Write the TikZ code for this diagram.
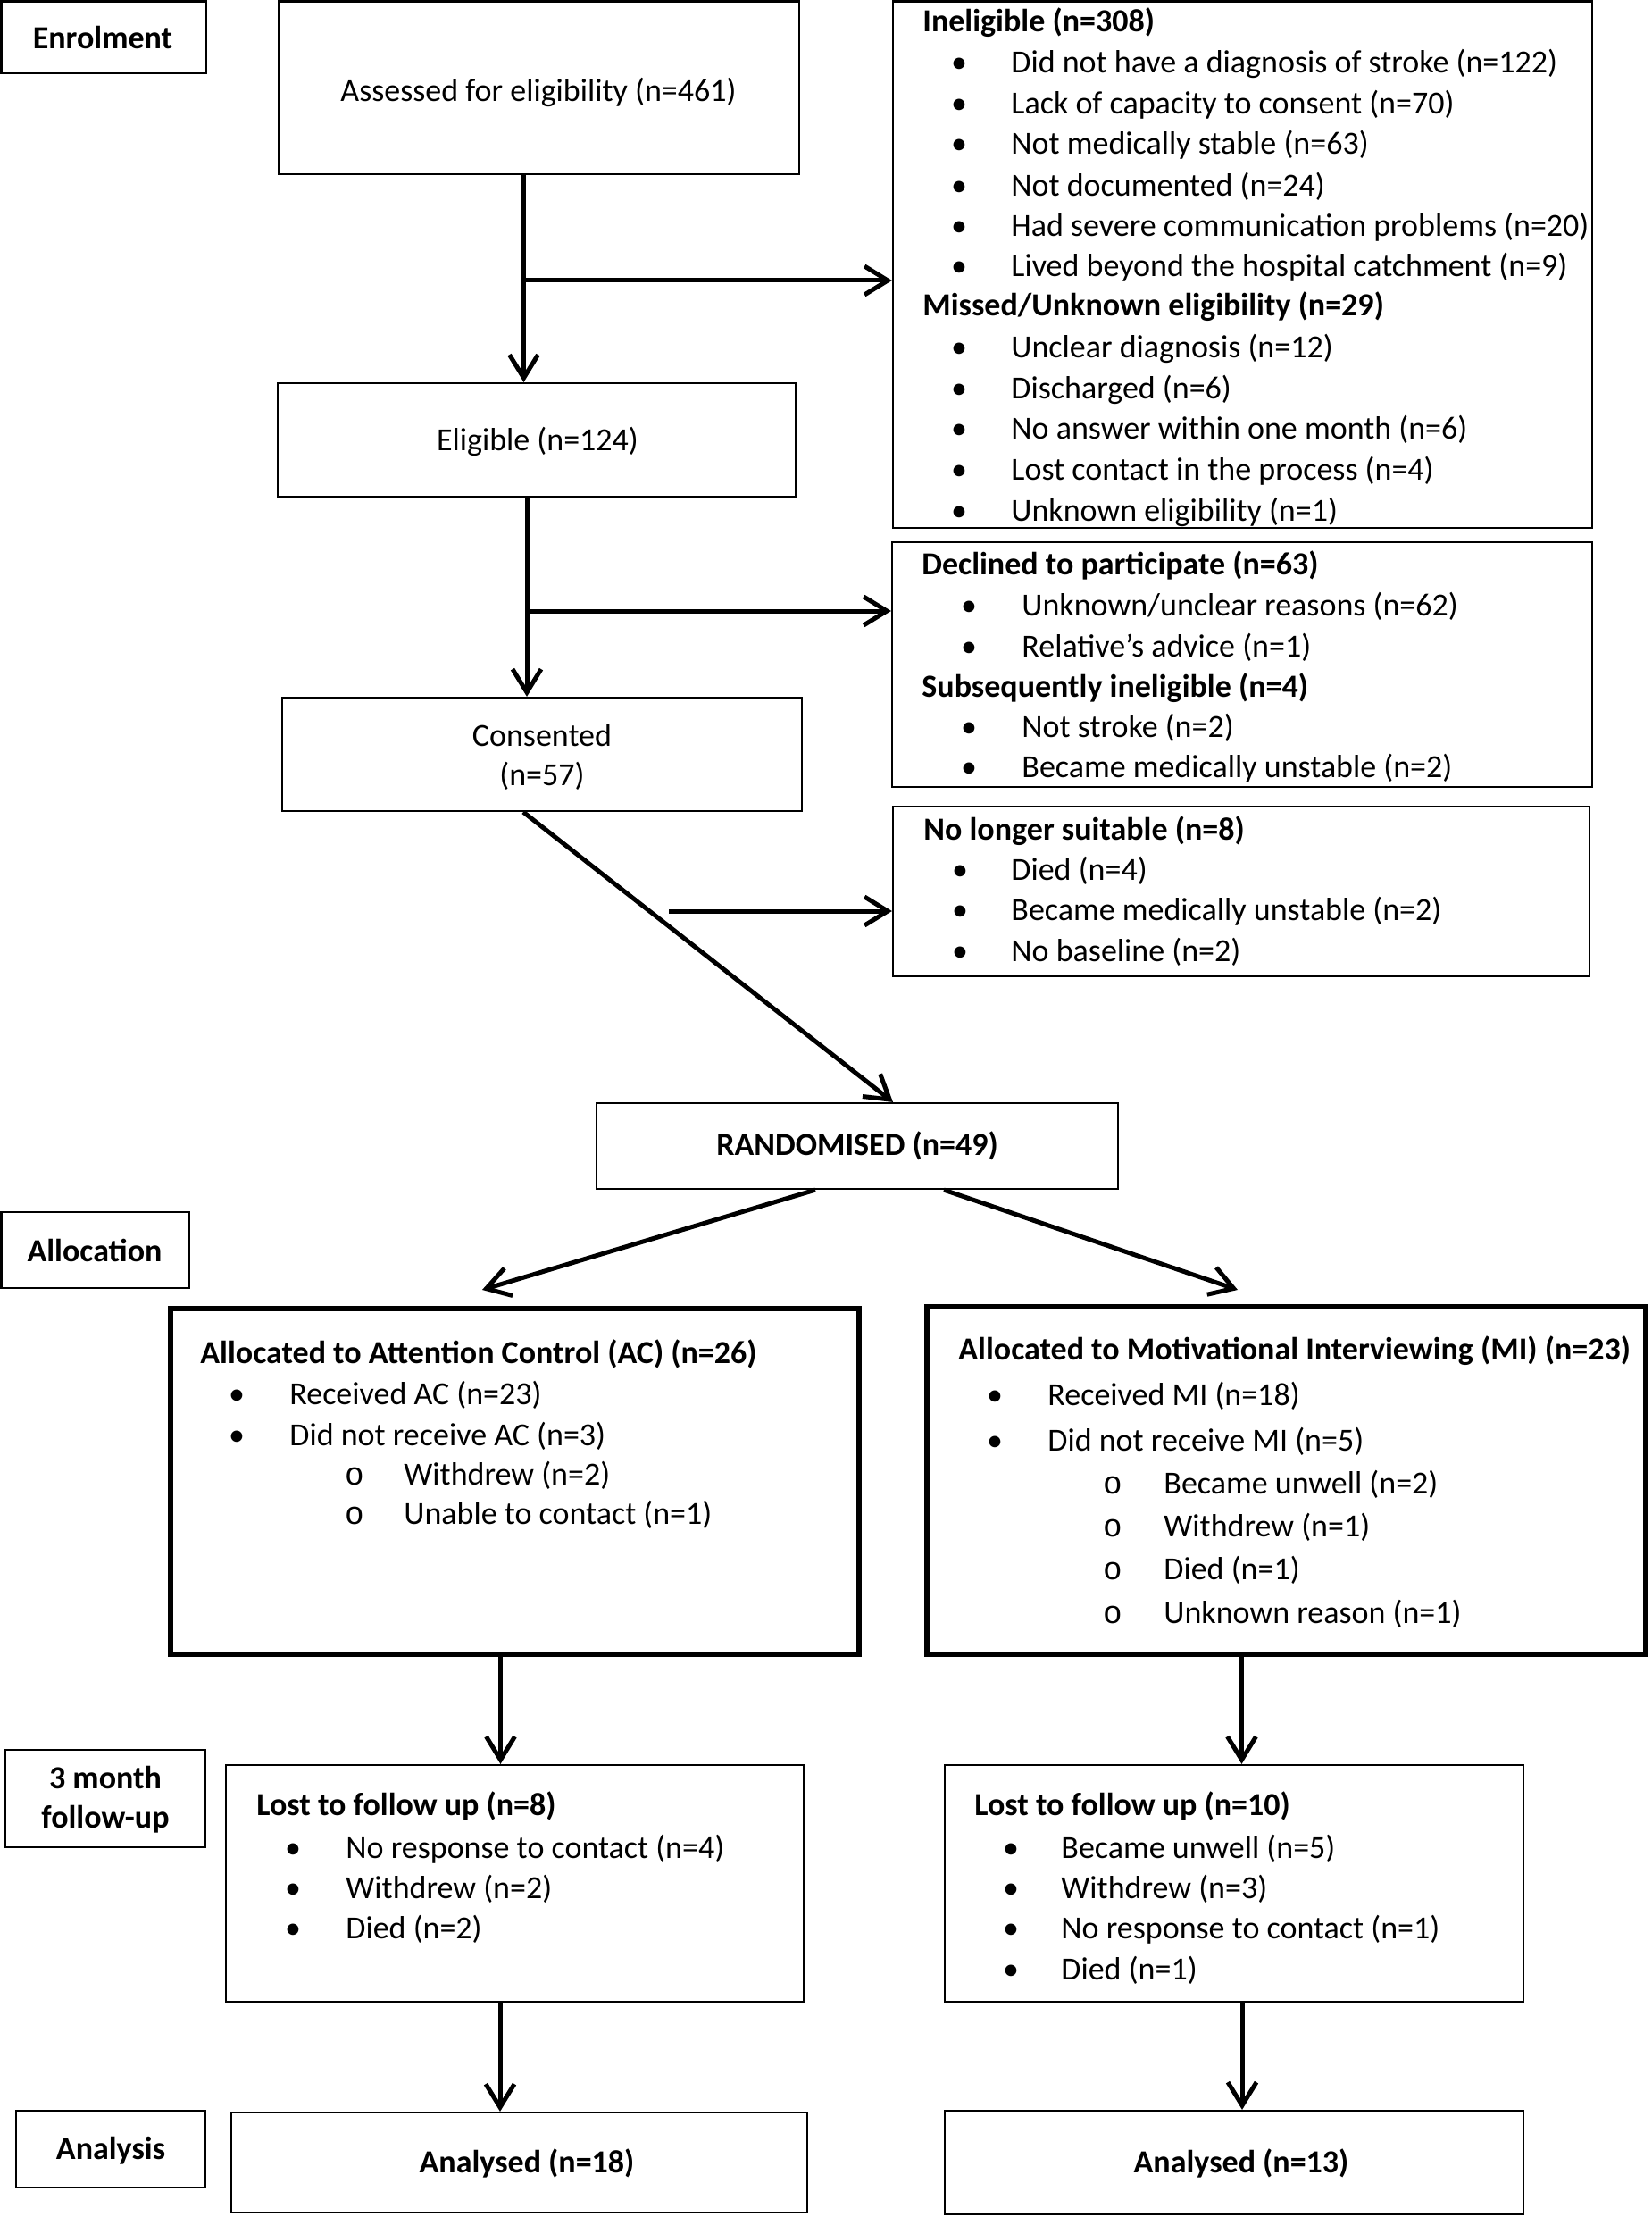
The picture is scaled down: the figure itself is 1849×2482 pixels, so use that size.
\documentclass[tikz,border=0pt]{standalone}
\usepackage{fontspec}
\setmainfont{Carlito}
\newfontfamily\monof{Liberation Mono}
\usetikzlibrary{arrows.meta,fit}
\newcommand\bitem[5]{\node[bul] (#1b) at (#2,#4) {\textbullet}; \node[txt] (#1) at (#3,#4) {#5};}
\newcommand\citem[5]{\node[bul] (#1b) at (#2,#4) {{\monof o}}; \node[txt] (#1) at (#3,#4) {#5};}
\begin{document}
\begin{tikzpicture}[x=0.5pt,y=-0.5pt,
  font=\fontsize{18}{22}\selectfont,
  box/.style={draw, line width=1.1pt, inner sep=0pt},
  thickbox/.style={draw, line width=3pt, inner sep=0pt},
  txt/.style={anchor=base west, inner sep=0pt},
  bul/.style={anchor=base, inner sep=0pt},
  ctxt/.style={anchor=center, inner sep=0pt, align=center},
  arr/.style={line width=2.5pt, -{Straight Barb[length=13pt,width=16pt,line width=2.5pt]}},
]
\useasboundingbox (0,0) rectangle (1849,2482);

% ---------- boxes ----------
\node[box, fit={(1.5,1.5) (231,82)}] (enrol) {};
\node[box, fit={(312,1.5) (895,195)}] (assessed) {};
\node[box, fit={(1000,1.5) (1783,591)}] (inel) {};
\node[box, fit={(311,429) (891,556)}] (eligible) {};
\node[box, fit={(999,607) (1783,881)}] (declined) {};
\node[box, fit={(316,781) (898,908)}] (consented) {};
\node[box, fit={(1000,903) (1780,1093)}] (nolonger) {};
\node[box, fit={(668,1235) (1252,1331)}] (random) {};
\node[box, fit={(1.5,1357) (212,1442)}] (alloc) {};
\node[thickbox, fit={(191,1465) (962,1852)}] (ac) {};
\node[thickbox, fit={(1038,1463) (1843,1852)}] (mi) {};
\node[box, fit={(6,1959) (230,2068)}] (fu) {};
\node[box, fit={(253,1976) (900,2241)}] (lostac) {};
\node[box, fit={(1058,1976) (1706,2241)}] (lostmi) {};
\node[box, fit={(18,2363) (230,2449)}] (analysis) {};
\node[box, fit={(259,2365) (904,2477)}] (anac) {};
\node[box, fit={(1058,2363) (1706,2479)}] (anmi) {};

% ---------- centred texts ----------
\node[ctxt, font=\fontsize{18}{22}\selectfont\bfseries] (tenrol) at (115,42) {Enrolment};
\node[ctxt] (tassessed) at (603,103) {Assessed for eligibility (n=461)};
\node[ctxt] (teligible) at (602,494) {Eligible (n=124)};
\node[ctxt] (tconsented) at (607,847) {Consented\\(n=57)};
\node[ctxt, font=\fontsize{18}{22}\selectfont\bfseries] (trandom) at (960,1283) {RANDOMISED (n=49)};
\node[ctxt, font=\fontsize{18}{22}\selectfont\bfseries] (talloc) at (106,1400) {Allocation};
\node[ctxt, font=\fontsize{18}{22}\selectfont\bfseries] (tfu) at (118,2015) {3 month\\follow-up};
\node[ctxt, font=\fontsize{18}{22}\selectfont\bfseries] (tanalysis) at (124,2408) {Analysis};
\node[ctxt, font=\fontsize{18}{22}\selectfont\bfseries] (tanac) at (590,2422) {Analysed (n=18)};
\node[ctxt, font=\fontsize{18}{22}\selectfont\bfseries] (tanmi) at (1390,2422) {Analysed (n=13)};

% ---------- ineligible ----------
\node[txt, font=\fontsize{18}{22}\selectfont\bfseries] (inelt) at (1033,36) {Ineligible (n=308)};
\bitem{i1}{1074}{1132}{82}{Did not have a diagnosis of stroke (n=122)}
\bitem{i2}{1074}{1132}{128}{Lack of capacity to consent (n=70)}
\bitem{i3}{1074}{1132}{173}{Not medically stable (n=63)}
\bitem{i4}{1074}{1132}{220}{Not documented (n=24)}
\bitem{i5}{1074}{1132}{265}{Had severe communication problems (n=20)}
\bitem{i6}{1074}{1132}{310}{Lived beyond the hospital catchment (n=9)}
\node[txt, font=\fontsize{18}{22}\selectfont\bfseries] (misst) at (1033,354) {Missed/Unknown eligibility (n=29)};
\bitem{m1}{1074}{1132}{401}{Unclear diagnosis (n=12)}
\bitem{m2}{1074}{1132}{447}{Discharged (n=6)}
\bitem{m3}{1074}{1132}{492}{No answer within one month (n=6)}
\bitem{m4}{1074}{1132}{538}{Lost contact in the process (n=4)}
\bitem{m5}{1074}{1132}{583}{Unknown eligibility (n=1)}

% ---------- declined ----------
\node[txt, font=\fontsize{18}{22}\selectfont\bfseries] (dect) at (1032,643) {Declined to participate (n=63)};
\bitem{d1}{1085}{1144}{689}{Unknown/unclear reasons (n=62)}
\bitem{d2}{1085}{1144}{735}{Relative’s advice (n=1)}
\node[txt, font=\fontsize{18}{22}\selectfont\bfseries] (subt) at (1032,780) {Subsequently ineligible (n=4)};
\bitem{s1}{1085}{1144}{825}{Not stroke (n=2)}
\bitem{s2}{1085}{1144}{870}{Became medically unstable (n=2)}

% ---------- no longer suitable ----------
\node[txt, font=\fontsize{18}{22}\selectfont\bfseries] (nolt) at (1034,940) {No longer suitable (n=8)};
\bitem{n1}{1075}{1132}{985}{Died (n=4)}
\bitem{n2}{1075}{1132}{1030}{Became medically unstable (n=2)}
\bitem{n3}{1075}{1132}{1076}{No baseline (n=2)}

% ---------- AC ----------
\node[txt, font=\fontsize{18}{22}\selectfont\bfseries] (act) at (224,1526) {Allocated to Attention Control (AC) (n=26)};
\bitem{a1}{265}{324}{1572}{Received AC (n=23)}
\bitem{a2}{265}{324}{1618}{Did not receive AC (n=3)}
\citem{a3}{397}{452}{1662}{Withdrew (n=2)}
\citem{a4}{397}{452}{1706}{Unable to contact (n=1)}

% ---------- MI ----------
\node[txt, font=\fontsize{18}{22}\selectfont\bfseries] (mit) at (1073,1522) {Allocated to Motivational Interviewing (MI) (n=23)};
\bitem{b1}{1114}{1173}{1573}{Received MI (n=18)}
\bitem{b2}{1114}{1173}{1624}{Did not receive MI (n=5)}
\citem{b3}{1246}{1303}{1672}{Became unwell (n=2)}
\citem{b4}{1246}{1303}{1720}{Withdrew (n=1)}
\citem{b5}{1246}{1303}{1768}{Died (n=1)}
\citem{b6}{1246}{1303}{1817}{Unknown reason (n=1)}

% ---------- lost to follow up ----------
\node[txt, font=\fontsize{18}{22}\selectfont\bfseries] (lact) at (287,2032) {Lost to follow up (n=8)};
\bitem{la1}{328}{387}{2080}{No response to contact (n=4)}
\bitem{la2}{328}{387}{2125}{Withdrew (n=2)}
\bitem{la3}{328}{387}{2170}{Died (n=2)}
\node[txt, font=\fontsize{18}{22}\selectfont\bfseries] (lmit) at (1091,2032) {Lost to follow up (n=10)};
\bitem{lm1}{1132}{1188}{2080}{Became unwell (n=5)}
\bitem{lm2}{1132}{1188}{2125}{Withdrew (n=3)}
\bitem{lm3}{1132}{1188}{2170}{No response to contact (n=1)}
\bitem{lm4}{1132}{1188}{2216}{Died (n=1)}

% ---------- connectors ----------
\coordinate (s1) at ([xshift=-8.5pt]assessed.south);
\coordinate (br1) at (586,314);
\draw[arr] (s1) -- (s1 |- eligible.north);
\draw[arr] (br1) -- (br1 -| inel.west);

\coordinate (s2) at ([xshift=-5.5pt]eligible.south);
\coordinate (br2) at (590,684);
\draw[arr] (s2) -- (s2 |- consented.north);
\draw[arr] (br2) -- (br2 -| declined.west);

\draw[arr] ([xshift=-10.5pt]consented.south) -- ([xshift=20pt]random.north);
\coordinate (br3) at (749,1020);
\draw[arr] (br3) -- (br3 -| nolonger.west);

\coordinate (acin) at (540,1444);
\coordinate (miin) at (1386,1444);
\draw[arr] ([xshift=-23.5pt]random.south) -- (acin);
\draw[arr] ([xshift=48.5pt]random.south) -- (miin);

\coordinate (s5) at ([xshift=-8pt]ac.south);
\draw[arr] (s5) -- (s5 |- lostac.north);
\coordinate (s6) at ([xshift=-25pt]mi.south);
\draw[arr] (s6) -- (s6 |- lostmi.north);

\coordinate (s7) at ([xshift=-8.25pt]lostac.south);
\draw[arr] (s7) -- (s7 |- anac.north);
\coordinate (s8) at ([xshift=4.5pt]lostmi.south);
\draw[arr] (s8) -- (s8 |- anmi.north);
\end{tikzpicture}
\end{document}
